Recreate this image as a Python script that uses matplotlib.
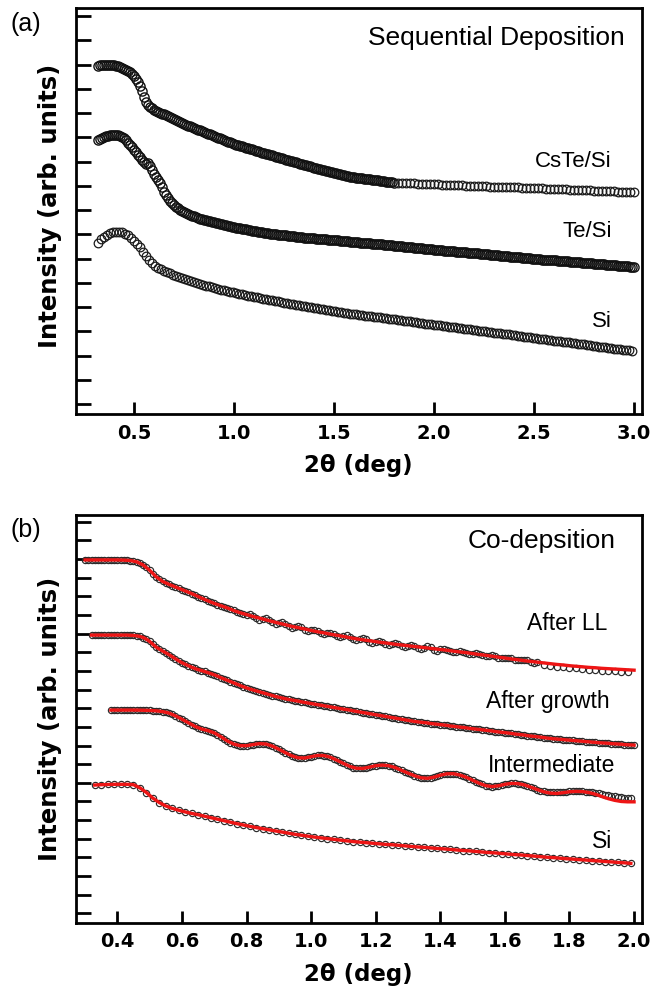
import numpy as np
import matplotlib
matplotlib.use("Agg")
import matplotlib.pyplot as plt
from matplotlib.font_manager import FontProperties

# ---------------- Panel (a): Sequential Deposition ----------------
# x grids (scan start, step); y values
CSTE_X0, CSTE_DX = 0.32, 0.01
CSTE_Y = [13.95, 13.98, 14.00, 14.00, 14.00, 14.00, 13.99, 13.98, 13.97, 13.95,
          13.93, 13.90, 13.87, 13.83, 13.79, 13.74, 13.69, 13.62, 13.53, 13.41,
          13.27, 13.10, 12.90, 12.65, 12.45, 12.33, 12.25, 12.19, 12.14, 12.09,
          12.05, 12.01, 11.98, 11.95, 11.91, 11.88, 11.85, 11.81, 11.77, 11.73,
          11.68, 11.64, 11.59, 11.55, 11.52, 11.48, 11.45, 11.42, 11.38, 11.35,
          11.32, 11.28, 11.25, 11.22, 11.19, 11.15, 11.12, 11.09, 11.05, 11.02,
          10.99, 10.95, 10.92, 10.89, 10.85, 10.82, 10.79, 10.75, 10.72, 10.70,
          10.67, 10.65, 10.62, 10.60, 10.57, 10.55, 10.52, 10.50, 10.47, 10.45,
          10.42, 10.40, 10.37, 10.35, 10.32, 10.30, 10.27, 10.25, 10.22, 10.20,
          10.17, 10.15, 10.13, 10.10, 10.08, 10.05, 10.03, 10.01, 9.98, 9.96,
          9.93, 9.91, 9.88, 9.86, 9.84, 9.82, 9.80, 9.77, 9.75, 9.73,
          9.71, 9.69, 9.67, 9.65, 9.62, 9.60, 9.58, 9.56, 9.54, 9.52,
          9.50, 9.47, 9.45, 9.43, 9.41, 9.39, 9.37, 9.36, 9.35, 9.34,
          9.33, 9.32, 9.31, 9.29, 9.28, 9.27, 9.26, 9.25, 9.24, 9.23,
          9.22, 9.21, 9.19, 9.18, 9.17, 9.16, 9.15, 9.14, 9.13]
CSTE2_X0, CSTE2_DX = 1.82, 0.02
CSTE2_Y = [9.12, 9.11, 9.11, 9.10, 9.10, 9.09, 9.08, 9.08, 9.07, 9.06,
           9.06, 9.05, 9.04, 9.04, 9.03, 9.02, 9.02, 9.01, 9.00, 9.00,
           8.99, 8.98, 8.98, 8.97, 8.96, 8.96, 8.95, 8.95, 8.94, 8.93,
           8.93, 8.92, 8.91, 8.91, 8.90, 8.89, 8.89, 8.88, 8.87, 8.87,
           8.86, 8.85, 8.85, 8.84, 8.83, 8.83, 8.82, 8.81, 8.81, 8.80,
           8.79, 8.79, 8.78, 8.77, 8.77, 8.76, 8.76, 8.75, 8.74, 8.74]
TESI_X0, TESI_DX = 0.32, 0.01
TESI_Y = [10.88, 10.93, 10.97, 11.02, 11.06, 11.07, 11.08, 11.08, 11.08, 11.08,
          11.08, 11.07, 11.03, 10.98, 10.88, 10.78, 10.69, 10.60, 10.49, 10.38,
          10.28, 10.17, 10.08, 9.98, 9.90, 9.95, 9.82, 9.65, 9.48, 9.36,
          9.24, 9.10, 8.93, 8.76, 8.61, 8.48, 8.38, 8.29, 8.21, 8.14,
          8.07, 8.01, 7.96, 7.92, 7.88, 7.84, 7.80, 7.77, 7.74, 7.71,
          7.68, 7.65, 7.62, 7.59, 7.57, 7.55, 7.53, 7.51, 7.49, 7.47,
          7.45, 7.43, 7.41, 7.39, 7.37, 7.35, 7.33, 7.31, 7.29, 7.27,
          7.26, 7.24, 7.23, 7.21, 7.20, 7.18, 7.17, 7.15, 7.14, 7.12,
          7.11, 7.09, 7.08, 7.07, 7.05, 7.04, 7.03, 7.02, 7.01, 7.00,
          6.99, 6.98, 6.97, 6.96, 6.95, 6.94, 6.93, 6.92, 6.91, 6.90,
          6.89, 6.88, 6.87, 6.86, 6.85, 6.85, 6.84, 6.83, 6.83, 6.82,
          6.81, 6.81, 6.80, 6.79, 6.79, 6.78, 6.77, 6.77, 6.76, 6.75,
          6.75, 6.74, 6.73, 6.72, 6.72, 6.71, 6.70, 6.69, 6.69, 6.68,
          6.67, 6.66, 6.65, 6.65, 6.64, 6.63, 6.62, 6.61, 6.61, 6.60,
          6.59, 6.58, 6.58, 6.57, 6.56, 6.55, 6.54, 6.54, 6.53, 6.52,
          6.51, 6.50, 6.50, 6.49, 6.48, 6.47, 6.47, 6.46, 6.45, 6.44,
          6.43, 6.43, 6.42, 6.41, 6.40, 6.40, 6.39, 6.38, 6.37, 6.36,
          6.36, 6.35, 6.34, 6.33, 6.33, 6.32, 6.31, 6.30, 6.30, 6.29,
          6.28, 6.27, 6.27, 6.26, 6.25, 6.24, 6.24, 6.23, 6.22, 6.21,
          6.21, 6.20, 6.19, 6.18, 6.17, 6.17, 6.16, 6.15, 6.14, 6.14,
          6.13, 6.12, 6.11, 6.11, 6.10, 6.09, 6.08, 6.08, 6.07, 6.06,
          6.05, 6.05, 6.04, 6.03, 6.02, 6.02, 6.01, 6.00, 5.99, 5.99,
          5.98, 5.97, 5.96, 5.96, 5.95, 5.94, 5.94, 5.93, 5.92, 5.92,
          5.91, 5.90, 5.90, 5.89, 5.88, 5.88, 5.87, 5.86, 5.86, 5.85,
          5.84, 5.84, 5.83, 5.82, 5.82, 5.81, 5.80, 5.80, 5.79, 5.78,
          5.78, 5.77, 5.76, 5.76, 5.75, 5.74, 5.74, 5.73, 5.72, 5.72,
          5.71, 5.70, 5.70, 5.69, 5.68, 5.68, 5.67, 5.66, 5.66]
SIA_X0, SIA_DX = 0.32, 0.015
SIA_Y = [6.65, 6.79, 6.90, 6.98, 7.04, 7.08, 7.10, 7.10, 7.08, 7.03,
         6.96, 6.86, 6.74, 6.61, 6.47, 6.29, 6.10, 5.95, 5.82, 5.71,
         5.63, 5.56, 5.50, 5.44, 5.39, 5.34, 5.29, 5.24, 5.19, 5.14,
         5.10, 5.06, 5.02, 4.98, 4.95, 4.91, 4.88, 4.85, 4.81, 4.78,
         4.75, 4.72, 4.69, 4.66, 4.63, 4.60, 4.57, 4.545, 4.52, 4.50,
         4.47, 4.45, 4.42, 4.40, 4.37, 4.35, 4.32, 4.30, 4.27, 4.25,
         4.23, 4.21, 4.18, 4.16, 4.14, 4.12, 4.09, 4.07, 4.05, 4.03,
         4.01, 3.99, 3.97, 3.95, 3.93, 3.91, 3.89, 3.87, 3.85, 3.83,
         3.81, 3.79, 3.77, 3.75, 3.73, 3.72, 3.70, 3.68, 3.67, 3.65,
         3.63, 3.62, 3.60, 3.59, 3.57, 3.55, 3.54, 3.52, 3.50, 3.49,
         3.47, 3.46, 3.44, 3.42, 3.41, 3.39, 3.37, 3.36, 3.34, 3.32,
         3.31, 3.29, 3.28, 3.26, 3.24, 3.23, 3.21, 3.19, 3.18, 3.16,
         3.15, 3.13, 3.11, 3.10, 3.08, 3.06, 3.05, 3.03, 3.01, 3.00,
         2.98, 2.97, 2.95, 2.93, 2.92, 2.90, 2.88, 2.87, 2.85, 2.83,
         2.82, 2.80, 2.78, 2.77, 2.75, 2.73, 2.72, 2.70, 2.69, 2.67,
         2.65, 2.64, 2.62, 2.60, 2.59, 2.57, 2.55, 2.54, 2.52, 2.51,
         2.49, 2.47, 2.46, 2.44, 2.42, 2.41, 2.39, 2.37, 2.36, 2.34,
         2.32, 2.31, 2.29, 2.28, 2.26, 2.24, 2.23, 2.21, 2.19]
A_XTICKS = [0.5, 1.0, 1.5, 2.0, 2.5, 3.0]
A_XTICKLABELS = ["0.5", "1.0", "1.5", "2.0", "2.5", "3.0"]

# ---------------- Panel (b): Co-deposition ----------------
LL_X0, LL_DX = 0.30, 0.01
LL_Y = [18.95, 18.95, 18.95, 18.95, 18.95, 18.95, 18.95, 18.95, 18.95, 18.95,
        18.95, 18.95, 18.94, 18.93, 18.92, 18.89, 18.85, 18.78, 18.68, 18.55,
        18.40, 18.22, 18.05, 17.91, 17.80, 17.71, 17.64, 17.57, 17.50, 17.43,
        17.36, 17.29, 17.22, 17.15, 17.07, 16.99, 16.91, 16.83, 16.76, 16.69,
        16.62, 16.56, 16.50, 16.44, 16.38, 16.31, 16.24, 16.18, 16.12, 16.07,
        16.02, 16.05, 15.97, 15.83, 15.75, 15.79, 15.82, 15.75, 15.60, 15.53,
        15.56, 15.60, 15.53, 15.39, 15.31, 15.36, 15.40, 15.34, 15.20, 15.13,
        15.17, 15.22, 15.15, 15.02, 14.96, 15.01, 15.05, 14.99, 14.86, 14.80,
        14.85, 14.90, 14.83, 14.70, 14.64, 14.70, 14.75, 14.70, 14.57, 14.52,
        14.57, 14.63, 14.57, 14.45, 14.40, 14.46, 14.51, 14.46, 14.34, 14.29,
        14.35, 14.41, 14.36, 14.24, 14.19, 14.25, 14.31, 14.26, 14.14, 14.09,
        14.15, 14.17, 14.14, 14.06, 14.02, 14.04, 14.06, 14.03, 13.95, 13.92,
        13.93, 13.95, 13.91, 13.83, 13.80, 13.82, 13.83, 13.80, 13.71, 13.68,
        13.69, 13.71, 13.67, 13.59, 13.56, 13.58, 13.59, 13.56, 13.48, 13.45,
        13.47]
LL2_X0, LL2_DX = 1.72, 0.02
LL2_Y = [13.31, 13.27, 13.23, 13.20, 13.16, 13.13, 13.10, 13.07, 13.05, 13.02,
         13.00, 12.98, 12.96, 12.94]
LLFIT_X0, LLFIT_DX = 0.30, 0.02
LLFIT_Y = [18.95, 18.95, 18.95, 18.95, 18.95, 18.95, 18.94, 18.92, 18.85, 18.68,
           18.40, 18.05, 17.80, 17.64, 17.50, 17.36, 17.22, 17.07, 16.91, 16.76,
           16.62, 16.50, 16.38, 16.24, 16.12, 16.02, 15.92, 15.83, 15.74, 15.65,
           15.56, 15.48, 15.39, 15.32, 15.25, 15.17, 15.10, 15.04, 14.97, 14.91,
           14.85, 14.78, 14.72, 14.67, 14.62, 14.57, 14.52, 14.48, 14.43, 14.39,
           14.35, 14.31, 14.27, 14.23, 14.19, 14.15, 14.11, 14.06, 14.02, 13.98,
           13.93, 13.88, 13.84, 13.79, 13.74, 13.69, 13.64, 13.60, 13.55, 13.51,
           13.47, 13.43, 13.39, 13.35, 13.32, 13.28, 13.25, 13.22, 13.19, 13.17,
           13.14, 13.12, 13.10, 13.08, 13.06, 13.04]
GROW_X0, GROW_DX = 0.32, 0.01
GROW_Y = [14.92, 14.92, 14.92, 14.92, 14.92, 14.92, 14.92, 14.92, 14.92, 14.92,
          14.92, 14.92, 14.91, 14.90, 14.88, 14.85, 14.79, 14.70, 14.58, 14.43,
          14.28, 14.17, 14.07, 13.97, 13.87, 13.76, 13.65, 13.54, 13.44, 13.36,
          13.28, 13.20, 13.13, 13.07, 13.02, 12.97, 12.91, 12.85, 12.79, 12.72,
          12.64, 12.57, 12.50, 12.43, 12.36, 12.29, 12.22, 12.15, 12.09, 12.03,
          11.98, 11.93, 11.88, 11.83, 11.78, 11.73, 11.68, 11.63, 11.59, 11.55,
          11.51, 11.47, 11.44, 11.41, 11.38, 11.34, 11.31, 11.28, 11.25, 11.22,
          11.19, 11.16, 11.13, 11.10, 11.07, 11.04, 11.01, 10.98, 10.95, 10.93,
          10.90, 10.86, 10.83, 10.80, 10.77, 10.74, 10.71, 10.68, 10.65, 10.62,
          10.59, 10.56, 10.53, 10.50, 10.47, 10.44, 10.41, 10.38, 10.35, 10.32,
          10.29, 10.27, 10.25, 10.23, 10.21, 10.18, 10.16, 10.14, 10.12, 10.10,
          10.08, 10.05, 10.03, 10.01, 9.99, 9.97, 9.95, 9.92, 9.90, 9.88,
          9.86, 9.84, 9.82, 9.80, 9.78, 9.75, 9.73, 9.71, 9.69, 9.67,
          9.65, 9.62, 9.60, 9.58, 9.56, 9.53, 9.51, 9.49, 9.47, 9.45,
          9.43, 9.40, 9.38, 9.36, 9.35, 9.33, 9.32, 9.30, 9.29, 9.27,
          9.26, 9.24, 9.23, 9.21, 9.20, 9.18, 9.17, 9.15, 9.14, 9.13,
          9.12, 9.10, 9.09, 9.08, 9.07, 9.05, 9.04, 9.03, 9.02]
INTER_X0, INTER_DX = 0.38, 0.01
INTER_Y = [10.90, 10.90, 10.90, 10.90, 10.90, 10.90, 10.90, 10.90, 10.90, 10.89,
           10.89, 10.88, 10.88, 10.87, 10.86, 10.84, 10.82, 10.78, 10.74, 10.67,
           10.59, 10.50, 10.41, 10.31, 10.22, 10.12, 10.03, 9.96, 9.89, 9.84,
           9.80, 9.74, 9.68, 9.58, 9.48, 9.36, 9.25, 9.16, 9.08, 9.03,
           8.99, 8.98, 8.99, 9.02, 9.05, 9.08, 9.10, 9.10, 9.08, 9.03,
           8.97, 8.89, 8.80, 8.71, 8.62, 8.53, 8.45, 8.39, 8.34, 8.33,
           8.33, 8.36, 8.40, 8.44, 8.47, 8.47, 8.46, 8.42, 8.37, 8.29,
           8.21, 8.12, 8.04, 7.96, 7.88, 7.82, 7.78, 7.77, 7.77, 7.80,
           7.84, 7.88, 7.92, 7.94, 7.95, 7.94, 7.92, 7.88, 7.82, 7.75,
           7.67, 7.60, 7.52, 7.45, 7.38, 7.32, 7.27, 7.25, 7.24, 7.26,
           7.30, 7.35, 7.41, 7.45, 7.48, 7.49, 7.49, 7.46, 7.42, 7.37,
           7.30, 7.22, 7.14, 7.06, 6.98, 6.91, 6.85, 6.82, 6.80, 6.81,
           6.84, 6.88, 6.92, 6.95, 6.97, 6.97, 6.96, 6.93, 6.89, 6.83,
           6.77, 6.70, 6.64, 6.58, 6.55, 6.52, 6.51, 6.50, 6.50, 6.51,
           6.52, 6.53, 6.54, 6.55, 6.55, 6.55, 6.54, 6.53, 6.52, 6.50,
           6.47, 6.44, 6.40, 6.36, 6.33, 6.30, 6.27, 6.24, 6.22, 6.20,
           6.18, 6.17]
INTERFIT_X0, INTERFIT_DX = 0.38, 0.02
INTERFIT_Y = [10.90, 10.90, 10.90, 10.90, 10.90, 10.89, 10.88, 10.86, 10.82, 10.74,
              10.59, 10.41, 10.22, 10.03, 9.89, 9.80, 9.68, 9.48, 9.25, 9.08,
              8.99, 8.99, 9.05, 9.10, 9.08, 8.97, 8.80, 8.62, 8.45, 8.34,
              8.33, 8.40, 8.47, 8.46, 8.37, 8.21, 8.04, 7.88, 7.78, 7.77,
              7.84, 7.92, 7.95, 7.92, 7.82, 7.67, 7.52, 7.38, 7.27, 7.24,
              7.30, 7.41, 7.48, 7.49, 7.42, 7.30, 7.14, 6.98, 6.85, 6.80,
              6.84, 6.92, 6.97, 6.96, 6.89, 6.77, 6.64, 6.52, 6.45, 6.43,
              6.47, 6.52, 6.54, 6.53, 6.48, 6.39, 6.27, 6.15, 6.06, 6.00,
              5.98, 5.98]
SIB_X0, SIB_DX = 0.33, 0.02
SIB_Y = [6.88, 6.90, 6.91, 6.92, 6.92, 6.92, 6.90, 6.73, 6.48, 6.18,
         5.94, 5.76, 5.63, 5.53, 5.44, 5.36, 5.29, 5.21, 5.13, 5.05,
         4.97, 4.89, 4.81, 4.74, 4.67, 4.60, 4.54, 4.48, 4.42, 4.36,
         4.30, 4.24, 4.19, 4.14, 4.09, 4.05, 4.01, 3.97, 3.93, 3.89,
         3.85, 3.82, 3.79, 3.76, 3.73, 3.70, 3.68, 3.65, 3.62, 3.59,
         3.56, 3.54, 3.51, 3.48, 3.46, 3.43, 3.40, 3.37, 3.35, 3.32,
         3.29, 3.26, 3.24, 3.21, 3.18, 3.15, 3.13, 3.10, 3.07, 3.04,
         3.01, 2.99, 2.96, 2.93, 2.91, 2.88, 2.86, 2.83, 2.81, 2.78,
         2.76, 2.73, 2.71, 2.68]
B_XTICKS = [0.4, 0.6, 0.8, 1.0, 1.2, 1.4, 1.6, 1.8, 2.0]
B_XTICKLABELS = ["0.4", "0.6", "0.8", "1.0", "1.2", "1.4", "1.6", "1.8", "2.0"]


def grid(x0, dx, ys):
    return x0 + dx * np.arange(len(ys))


W, H = 650.0, 990.0


def fx(px):
    return px / W


def fy(py):
    return 1.0 - py / H


fig = plt.figure(figsize=(6.5, 9.9), dpi=100)
axA = fig.add_axes([fx(76), fy(414), (641.5 - 76) / W, (414 - 8) / H])
axB = fig.add_axes([fx(76), fy(922.7), (641.5 - 76) / W, (922.7 - 515) / H])

tick_fp = FontProperties(family="DejaVu Sans", weight="bold", size=14)
xlab_fp = FontProperties(family="DejaVu Sans", weight="bold", size=16.5)
ylab_fp = FontProperties(family="DejaVu Sans", weight="bold", size=17.5)
ann = ["Liberation Sans", "DejaVu Sans"]

mk_dense = dict(ls="none", marker="o", mfc="none", mec="#111111", ms=6.6, mew=1.0)
mk_a = dict(ls="none", marker="o", mfc="none", mec="#1a1a1a", ms=6.2, mew=0.9)
mk_b = dict(ls="none", marker="o", mfc="none", mec="#2a2a2a", ms=4.5, mew=0.85, zorder=2)
fit_kw = dict(color="#ee1515", lw=2.4, zorder=3)

# Panel (a)
axA.plot(grid(CSTE_X0, CSTE_DX, CSTE_Y), CSTE_Y, **mk_dense)
axA.plot(grid(CSTE2_X0, CSTE2_DX, CSTE2_Y), CSTE2_Y, **mk_a)
axA.plot(grid(TESI_X0, TESI_DX, TESI_Y), TESI_Y, **mk_dense)
axA.plot(grid(SIA_X0, SIA_DX, SIA_Y), SIA_Y, **mk_a)
axA.set_xlim(0.21, 3.04)
axA.set_ylim(-0.41, 16.33)
axA.set_xticks(A_XTICKS)
axA.set_xticklabels(A_XTICKLABELS)
axA.set_yticks(np.arange(0, 17))

# Panel (b)
axB.plot(grid(LL_X0, LL_DX, LL_Y), LL_Y, **mk_b)
axB.plot(grid(LL2_X0, LL2_DX, LL2_Y), LL2_Y, **mk_b)
axB.plot(grid(LLFIT_X0, LLFIT_DX, LLFIT_Y), LLFIT_Y, **fit_kw)
axB.plot(grid(GROW_X0, GROW_DX, GROW_Y), GROW_Y, **mk_b)
axB.plot(grid(GROW_X0, GROW_DX, GROW_Y), GROW_Y, **fit_kw)
axB.plot(grid(INTER_X0, INTER_DX, INTER_Y), INTER_Y, **mk_b)
axB.plot(grid(INTERFIT_X0, INTERFIT_DX, INTERFIT_Y), INTERFIT_Y, **fit_kw)
axB.plot(grid(SIB_X0, SIB_DX, SIB_Y), SIB_Y, **mk_b)
axB.plot(grid(SIB_X0, SIB_DX, SIB_Y), SIB_Y, **fit_kw)
axB.set_xlim(0.272, 2.023)
axB.set_ylim(-0.5, 21.36)
axB.set_xticks(B_XTICKS)
axB.set_xticklabels(B_XTICKLABELS)
axB.set_yticks(np.arange(0, 22))

for ax in (axA, axB):
    for s in ax.spines.values():
        s.set_linewidth(2.0)
    ax.tick_params(axis="y", direction="in", length=10.5, width=2.0, labelleft=False)
    ax.tick_params(axis="x", direction="in", length=9, width=2.0, pad=7)
    for lab in ax.get_xticklabels():
        lab.set_fontproperties(tick_fp)
    ax.set_xlabel("2θ (deg)", fontproperties=xlab_fp, labelpad=8)
    ax.set_ylabel("Intensity (arb. units)", fontproperties=ylab_fp)

axA.yaxis.set_label_coords((62 - 76) / 565.5, 0.513)
axB.yaxis.set_label_coords((62 - 76) / 565.5, 0.5)

# panel letters
fig.text(fx(26), fy(24), "(a)", family=ann, fontsize=18, ha="center", va="center")
fig.text(fx(26), fy(530), "(b)", family=ann, fontsize=18, ha="center", va="center")

# annotations (a)
fig.text(fx(625), fy(45), "Sequential Deposition", family=ann, fontsize=19, ha="right", va="baseline")
fig.text(fx(612), fy(167), "CsTe/Si", family=ann, fontsize=16, ha="right", va="baseline")
fig.text(fx(612), fy(237), "Te/Si", family=ann, fontsize=16, ha="right", va="baseline")
fig.text(fx(612), fy(327), "Si", family=ann, fontsize=16, ha="right", va="baseline")

# annotations (b)
fig.text(fx(616), fy(548), "Co-depsition", family=ann, fontsize=19, ha="right", va="baseline")
fig.text(fx(607), fy(630), "After LL", family=ann, fontsize=16.5, ha="right", va="baseline")
fig.text(fx(610), fy(708), "After growth", family=ann, fontsize=16.5, ha="right", va="baseline")
fig.text(fx(615), fy(771.5), "Intermediate", family=ann, fontsize=16.5, ha="right", va="baseline")
fig.text(fx(612), fy(848), "Si", family=ann, fontsize=16.5, ha="right", va="baseline")

fig.savefig("out.png", dpi=100)
